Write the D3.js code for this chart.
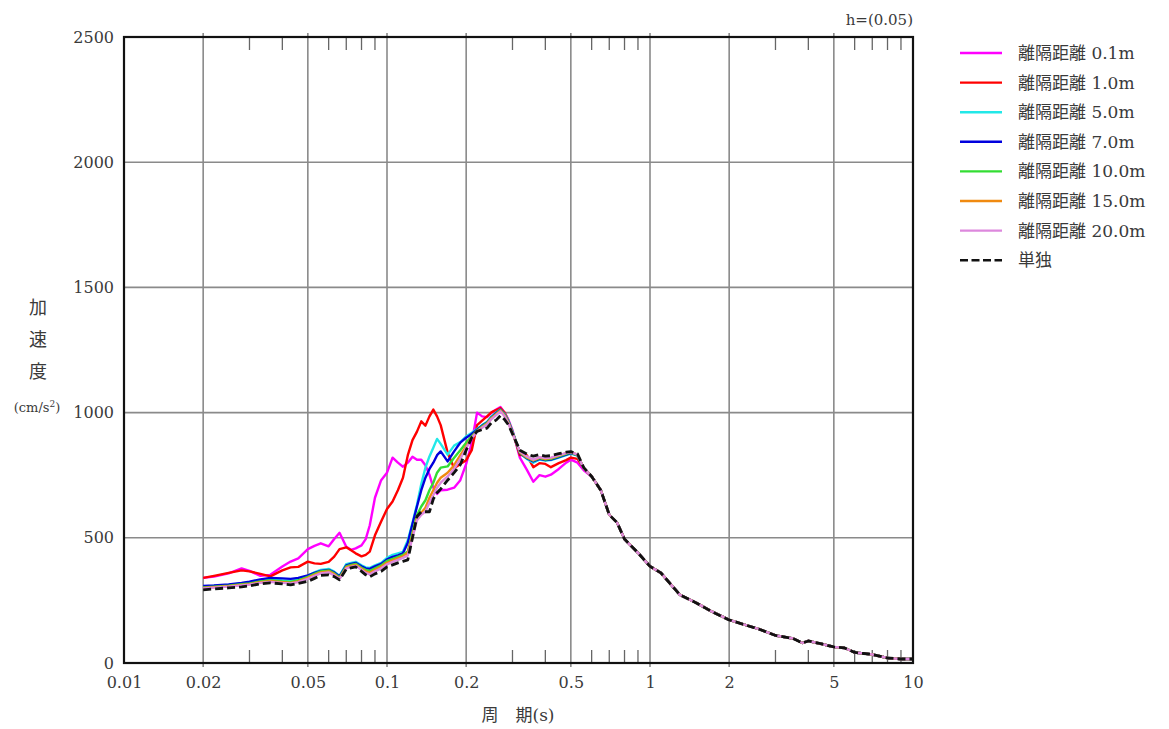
<!DOCTYPE html>
<html>
<head>
<meta charset="utf-8">
<script src="https://cdn.jsdelivr.net/npm/d3@7"></script>
<style>
  html, body { margin: 0; padding: 0; background: #fff; }
  svg { display: block; }
  text { font-family: "DejaVu Serif", "Noto Sans CJK JP", serif; fill: #3a3a3a; }
</style>
</head>
<body>
<svg id="chart" width="1169" height="729"></svg>
<script>
// ---------------- data ----------------
const periods = [
  0.02,0.022,0.025,0.028,0.03,0.033,0.036,0.04,0.043,0.046,
  0.05,0.053,0.056,0.06,0.063,0.066,0.07,0.073,0.076,0.08,
  0.083,0.086,0.09,0.095,0.1,0.105,0.11,0.115,0.12,0.125,
  0.13,0.135,0.14,0.145,0.15,0.155,0.16,0.17,0.18,0.19,
  0.2,0.21,0.22,0.23,0.24,0.25,0.26,0.27,0.28,0.29,
  0.3,0.32,0.34,0.36,0.38,0.4,0.42,0.45,0.48,0.5,
  0.53,0.56,
  0.6,0.65,0.7,0.75,0.8,0.9,1.0,1.1,1.2,1.3,
  1.5,1.7,2,2.3,2.6,3,3.5,3.8,4,4.5,
  5,5.5,6,6.5,7,8,9,10
];

// long-period part (T >= 0.6 s), where all curves coincide
const tailValues = [
  745,690,592,560,495,440,386,360,314,272,
  240,208,172,152,135,110,98,80,88,76,
  64,60,42,38,34,20,16,16
];

const head01 = [340,345,358,378,368,348,352,385,405,418,
  455,468,478,466,495,520,464,452,458,470,
  495,550,660,730,760,820,800,784,800,824,
  812,812,790,752,700,675,690,692,700,730,
  795,880,1000,985,982,1000,1012,1022,1000,970,
  930,820,772,724,750,744,752,775,800,812,
  800,770];
const head10 = [340,348,360,370,366,356,346,370,382,384,
  405,398,396,404,425,455,462,450,438,426,
  432,445,510,565,615,645,690,740,830,890,
  924,965,948,985,1012,985,950,840,778,795,
  810,850,950,968,985,1002,1010,1018,1000,965,
  925,830,830,782,798,795,782,798,810,820,
  815,778];
const head50 = [305,308,312,318,322,330,334,330,328,334,
  348,362,372,376,365,348,395,400,404,390,
  382,380,390,400,420,432,438,444,490,560,
  632,715,780,825,860,895,875,832,868,882,
  905,920,935,950,962,985,1000,1012,995,965,
  925,840,815,800,812,808,810,820,830,836,
  828,778];
const head70 = [308,310,314,320,325,334,340,338,336,340,
  350,360,368,372,362,346,390,396,400,386,
  378,376,386,396,414,424,430,438,480,555,
  625,690,740,775,800,830,845,805,845,880,
  900,915,932,948,960,982,998,1012,992,962,
  922,838,818,805,815,810,812,822,832,838,
  830,778];
const head100 = [302,305,309,315,318,326,330,326,324,330,
  344,356,366,370,358,342,386,392,396,380,
  372,368,378,390,408,416,424,432,445,520,
  590,625,650,690,720,760,780,785,820,850,
  880,905,928,945,958,980,995,1010,990,960,
  920,840,820,808,818,812,815,825,835,840,
  830,778];
const head150 = [300,303,307,312,315,323,327,323,320,326,
  340,352,362,366,355,338,382,388,392,376,
  366,360,372,384,400,410,418,426,440,510,
  580,600,620,660,690,720,740,760,790,830,
  865,900,926,942,955,978,993,1008,988,958,
  918,842,822,810,820,815,818,828,838,842,
  832,778];
const head200 = [298,301,305,310,313,320,324,320,318,323,
  336,348,358,362,350,336,378,384,388,372,
  360,354,366,378,394,404,412,420,430,500,
  570,592,605,640,670,700,720,745,775,815,
  858,898,924,940,952,975,990,1005,985,955,
  916,845,825,812,822,818,820,830,838,842,
  832,778];
const headSingle = [292,296,300,304,308,316,320,316,312,318,
  326,338,350,352,345,332,375,380,384,366,
  352,344,356,366,384,392,400,406,412,500,
  585,604,604,604,655,680,695,730,760,792,
  850,900,925,932,938,960,970,988,972,950,
  915,850,835,826,832,826,828,836,842,844,
  835,780];

const seriesNames = ["離隔距離 0.1m","離隔距離 1.0m","離隔距離 5.0m","離隔距離 7.0m",
  "離隔距離 10.0m","離隔距離 15.0m","離隔距離 20.0m","単独"];
const seriesValues = [head01, head10, head50, head70, head100, head150, head200, headSingle]
  .map(h => h.concat(tailValues));

const xMajorTicks = [0.01,0.02,0.05,0.1,0.2,0.5,1,2,5,10];
const xMinorTicks = [0.03,0.04,0.06,0.07,0.08,0.09,0.3,0.4,0.6,0.7,0.8,0.9,3,4,6,7,8,9];
const yTicks = [0,500,1000,1500,2000,2500];

// ---------------- styles ----------------
const colors = ["#ff00ff","#ff0000","#22e8e8","#0000dd","#33dd33","#f08a10","#dd88dd","#111111"];

// ---------------- layout ----------------
const L = 124, R = 913, T = 37, B = 663;
const svg = d3.select("#chart");
const x = d3.scaleLog().domain([0.01, 10]).range([L, R]);
const y = d3.scaleLinear().domain([0, 2500]).range([B, T]);

// grid
const grid = svg.append("g");
grid.selectAll("line.vg").data(xMajorTicks.filter(v => v > 0.01 && v < 10)).join("line")
  .attr("x1", d => x(d)).attr("x2", d => x(d)).attr("y1", T - 4).attr("y2", B + 4)
  .attr("stroke", "#8a8a8a").attr("stroke-width", 1.6);
grid.selectAll("line.hg").data(yTicks.filter(v => v > 0 && v < 2500)).join("line")
  .attr("x1", L).attr("x2", R).attr("y1", d => y(d)).attr("y2", d => y(d))
  .attr("stroke", "#8a8a8a").attr("stroke-width", 1.6);

// minor ticks (inside, top & bottom)
const mt = svg.append("g");
mt.selectAll("line.b").data(xMinorTicks).join("line")
  .attr("x1", d => x(d)).attr("x2", d => x(d)).attr("y1", B).attr("y2", B - 13)
  .attr("stroke", "#666").attr("stroke-width", 1.3);
mt.selectAll("line.t").data(xMinorTicks).join("line")
  .attr("x1", d => x(d)).attr("x2", d => x(d)).attr("y1", T).attr("y2", T + 13)
  .attr("stroke", "#666").attr("stroke-width", 1.3);

// series
const line = d3.line().x(d => x(d[0])).y(d => y(d[1]));
seriesValues.forEach((vals, i) => {
  const pts = periods.map((p, k) => [p, vals[k]]);
  const path = svg.append("path").datum(pts)
    .attr("d", line).attr("fill", "none")
    .attr("stroke", colors[i])
    .attr("stroke-width", i === 7 ? 2.8 : 2.4)
    .attr("stroke-linejoin", "round");
  if (i === 7) path.attr("stroke-dasharray", "8,4");
});

// frame
svg.append("rect").attr("x", L).attr("y", T).attr("width", R - L).attr("height", B - T)
  .attr("fill", "none").attr("stroke", "#111").attr("stroke-width", 2.2);

// axes
const xAxis = d3.axisBottom(x).tickValues(xMajorTicks).tickFormat(d3.format("~g"))
  .tickSize(0).tickPadding(14);
const gx = svg.append("g").attr("transform", `translate(0,${B})`).call(xAxis);
gx.select(".domain").remove();
gx.selectAll("text").attr("font-size", 16).attr("fill", "#3a3a3a")
  .attr("font-family", "DejaVu Serif, serif");

const yAxis = d3.axisLeft(y).tickValues(yTicks).tickFormat(d3.format("d"))
  .tickSize(0).tickPadding(10);
const gy = svg.append("g").attr("transform", `translate(${L},0)`).call(yAxis);
gy.select(".domain").remove();
gy.selectAll("text").attr("font-size", 16).attr("fill", "#3a3a3a")
  .attr("font-family", "DejaVu Serif, serif");

// axis titles
svg.append("text").attr("x", 518).attr("y", 721).attr("text-anchor", "middle")
  .attr("font-size", 17).text("周\u3000期(s)");
const yt = svg.append("g");
["加","速","度"].forEach((c, i) => {
  yt.append("text").attr("x", 38).attr("y", 314 + i * 32).attr("text-anchor", "middle")
    .attr("font-size", 18).text(c);
});
const unit = yt.append("text").attr("x", 37).attr("y", 412).attr("text-anchor", "middle")
  .attr("font-size", 13);
unit.append("tspan").text("(cm/s");
unit.append("tspan").attr("dy", -5).attr("font-size", 9).text("2");
unit.append("tspan").attr("dy", 5).text(")");

// damping label
svg.append("text").attr("x", R).attr("y", 25).attr("text-anchor", "end")
  .attr("font-size", 15).text("h=(0.05)");

// legend
const lg = svg.append("g");
seriesNames.forEach((name, i) => {
  const yy = 53 + i * 29.6;
  const ln = lg.append("line").attr("x1", 960).attr("x2", 1002).attr("y1", yy).attr("y2", yy)
    .attr("stroke", colors[i]).attr("stroke-width", i === 7 ? 2.6 : 2.4);
  if (i === 7) ln.attr("stroke-dasharray", "8,3.5");
  lg.append("text").attr("x", 1018).attr("y", yy + 6).attr("font-size", 17).text(name);
});
</script>
</body>
</html>
